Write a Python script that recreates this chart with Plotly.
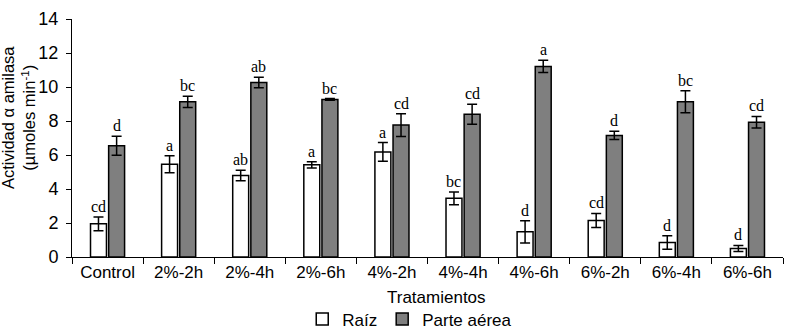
import plotly.graph_objects as go

categories = ["Control", "2%-2h", "2%-4h", "2%-6h", "4%-2h", "4%-4h", "4%-6h", "6%-2h", "6%-4h", "6%-6h"]
raiz = [1.95, 5.45, 4.8, 5.42, 6.18, 3.45, 1.48, 2.15, 0.85, 0.5]
raiz_err = [0.41, 0.5, 0.31, 0.19, 0.55, 0.37, 0.65, 0.41, 0.4, 0.18]
raiz_letters = ["cd", "a", "ab", "a", "a", "bc", "d", "cd", "d", "d"]
aerea = [6.54, 9.13, 10.27, 9.27, 7.76, 8.4, 11.21, 7.15, 9.13, 7.93]
aerea_err = [0.56, 0.33, 0.31, 0.05, 0.67, 0.59, 0.36, 0.24, 0.65, 0.34]
aerea_letters = ["d", "bc", "ab", "bc", "cd", "cd", "a", "d", "bc", "cd"]
x_title = "Tratamientos"
y_title = "Actividad α amilasa<br>(µmoles min<sup>-1</sup>)"

BARGAP = 0.49
fig = go.Figure()
fig.add_bar(x=categories, y=raiz, name="Raíz",
            marker=dict(color="white", line=dict(color="black", width=1.5)),
            error_y=dict(type="data", array=raiz_err, color="black", thickness=1.5, width=5))
fig.add_bar(x=categories, y=aerea, name="Parte aérea",
            marker=dict(color="#7f7f7f", line=dict(color="black", width=1.5)),
            error_y=dict(type="data", array=aerea_err, color="black", thickness=1.5, width=5))

off = (1 - BARGAP) / 4
for i in range(len(categories)):
    fig.add_annotation(x=i - off, y=raiz[i] + raiz_err[i], text=raiz_letters[i],
                       showarrow=False, yanchor="bottom", yshift=0,
                       font=dict(family="Liberation Serif", size=16, color="black"))
    fig.add_annotation(x=i + off, y=aerea[i] + aerea_err[i], text=aerea_letters[i],
                       showarrow=False, yanchor="bottom", yshift=0,
                       font=dict(family="Liberation Serif", size=16, color="black"))

# axis titles
fig.add_annotation(xref="paper", yref="paper", x=0, y=0.584, xshift=-54, xanchor="center",
                   yanchor="middle", textangle=-90, showarrow=False, text=y_title,
                   font=dict(size=16.5))
fig.add_annotation(xref="paper", yref="paper", x=0.513, y=0, yshift=-40, xanchor="center",
                   yanchor="middle", showarrow=False, text=x_title, font=dict(size=17))

fig.update_layout(
    width=787, height=333,
    margin=dict(l=72, r=4, t=19, b=76),
    plot_bgcolor="white", paper_bgcolor="white",
    barmode="group", bargap=BARGAP, bargroupgap=0.12,
    font=dict(family="Liberation Sans, Arial", size=17, color="black"),
    showlegend=True,
    legend=dict(orientation="h", x=0.475, xanchor="center",
                yref="container", y=0.095, yanchor="top",
                font=dict(size=17), itemwidth=30, traceorder="normal",
                tracegroupgap=0, borderwidth=0),
)
fig.update_xaxes(type="category", showline=True, linecolor="black", linewidth=1,
                 ticks="outside", tickson="boundaries", ticklen=6, tickcolor="black",
                 showgrid=False, range=[-0.5, len(categories) - 0.5], automargin=False,
                 tickfont=dict(size=17))
fig.update_yaxes(range=[0, 14], dtick=2, showline=True, linecolor="black", linewidth=1,
                 ticks="outside", ticklen=5, tickcolor="black", showgrid=False, zeroline=False,
                 automargin=False, tickfont=dict(size=18), ticklabelstandoff=4)

fig.write_html("out.html", config={"displayModeBar": False},
               post_script="document.body.style.margin='0';document.body.style.padding='0';")
